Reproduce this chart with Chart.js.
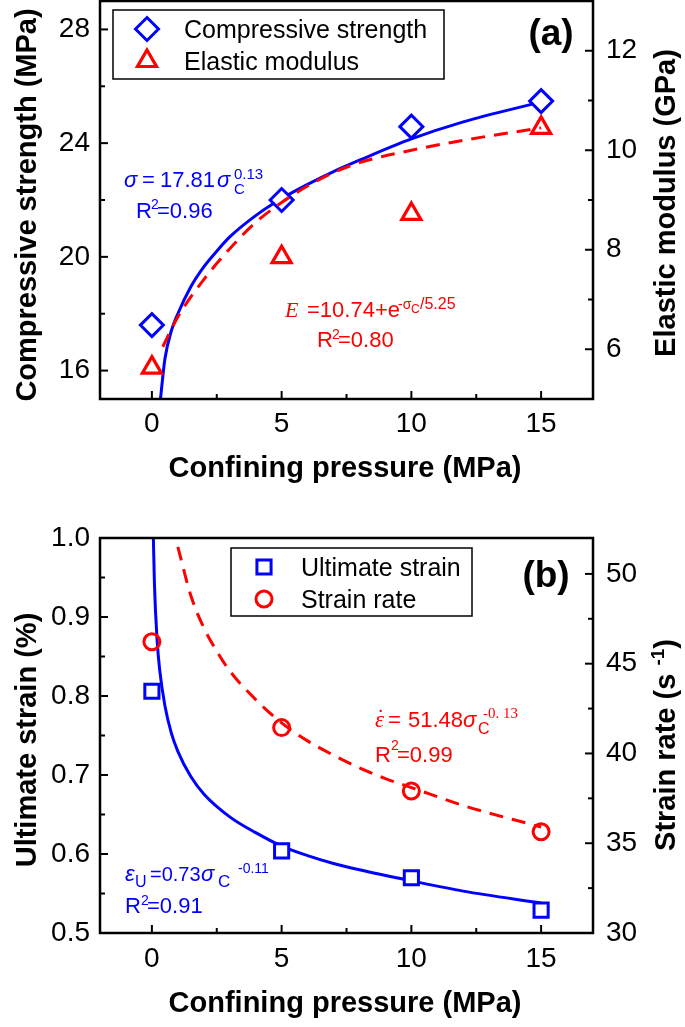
<!DOCTYPE html>
<html>
<head>
<meta charset="utf-8">
<script src="https://cdn.jsdelivr.net/npm/chart.js@4.4.0/dist/chart.umd.min.js"></script>
<style>
  body { margin: 0; background: #fff; }
  .wrap { position: absolute; left: 0; width: 685px; }
  #wrapA { top: 0; height: 500px; }
  #wrapB { top: 500px; height: 527px; }
</style>
</head>
<body>
<div class="wrap" id="wrapA"><canvas id="chartA" width="685" height="500"></canvas></div>
<div class="wrap" id="wrapB"><canvas id="chartB" width="685" height="527"></canvas></div>
<script>
// ===== data =====
const pressure = [0, 5, 10, 15];

// (a)
const compStrength = [17.6, 22.0, 24.58, 25.48];
const elasticModulus = [5.63, 7.85, 8.72, 10.45];
const fitStrengthX = [0.33, 0.5, 0.75, 1, 1.5, 2, 2.5, 3, 4, 5, 6, 7, 8, 10, 12, 15];
const fitStrengthY = [15.0, 16.4, 17.4, 18.0, 18.95, 19.65, 20.2, 20.7, 21.45, 22.05, 22.55, 23.0, 23.4, 24.15, 24.75, 25.45];
const fitModulusX = [0.42, 1, 2, 3, 4, 5, 6, 7, 8, 10, 12, 15];
const fitModulusY = [6.05, 6.65, 7.4, 8.02, 8.55, 8.95, 9.28, 9.55, 9.75, 10.0, 10.2, 10.45];

// (b)
const ultimateStrain = [0.806, 0.604, 0.570, 0.529];
const strainRate = [46.22, 41.44, 37.91, 35.64];
const fitStrainX = [0.057, 0.1, 0.2, 0.3, 0.5, 0.75, 1, 1.5, 2, 3, 4, 5, 6, 7, 8, 10, 12, 15];
const fitStrainY = [1.0, 0.94, 0.871, 0.833, 0.788, 0.753, 0.73, 0.698, 0.676, 0.647, 0.627, 0.610, 0.598, 0.588, 0.580, 0.566, 0.553, 0.538];
const fitRateX = [1, 1.5, 2, 2.5, 3, 4, 5, 6, 7, 8, 9, 10, 12, 15];
const fitRateY = [51.5, 48.8, 47.0, 45.7, 44.6, 43.0, 41.7, 40.7, 39.9, 39.2, 38.6, 38.1, 37.1, 35.9];

// ticks
const xTicks = [0, 5, 10, 15];
const xMinor = [2.5, 7.5, 12.5];
const strengthTicks = [16, 20, 24, 28];
const strengthMinor = [18, 22, 26];
const modulusTicks = [6, 8, 10, 12];
const modulusMinor = [7, 9, 11];
const strainTicks = [0.5, 0.6, 0.7, 0.8, 0.9, 1.0];
const strainMinor = [0.55, 0.65, 0.75, 0.85, 0.95];
const rateTicks = [30, 35, 40, 45, 50];
const rateMinor = [32.5, 37.5, 42.5, 47.5];

// ===== helpers =====
const SANS = "'Liberation Sans', Arial, sans-serif";
const SERIF = "'Liberation Serif', 'Times New Roman', serif";
const BLUE = '#0000ff';
const RED = '#ff0000';

Chart.defaults.font.family = SANS;
Chart.defaults.color = '#000';

const pts = (xs, ys) => xs.map((x, i) => ({x: x, y: ys[i]}));

function scaleOpts(pos, min, max, ticks, size, pad, fmt) {
    return {
        type: 'linear',
        position: pos,
        min: min,
        max: max,
        grid: {display: false, drawTicks: false},
        border: {display: false},
        afterBuildTicks: s => { s.ticks = ticks.map(v => ({value: v})); },
        afterFit: s => {
            if (pos === 'bottom') s.height = size; else s.width = size;
            s.paddingTop = 0; s.paddingBottom = 0; s.paddingLeft = 0; s.paddingRight = 0;
        },
        ticks: {
            font: {size: 28},
            color: '#000',
            padding: pad,
            maxRotation: 0,
            autoSkip: false,
            callback: fmt || (v => String(v))
        }
    };
}

function txt(ctx, s, x, y, font, color) {
    ctx.font = font;
    ctx.fillStyle = color;
    ctx.textAlign = 'left';
    ctx.textBaseline = 'alphabetic';
    ctx.fillText(s, x, y);
}

// frame and inward ticks
function frame(chart, minor) {
    const {ctx, chartArea: a, scales} = chart;
    ctx.save();
    ctx.strokeStyle = '#000';
    ctx.lineWidth = 2;
    const mark = (scale, v, len) => {
        const p = scale.getPixelForValue(v);
        ctx.beginPath();
        if (scale.axis === 'x') { ctx.moveTo(p, a.bottom); ctx.lineTo(p, a.bottom - len); }
        else if (scale.position === 'left') { ctx.moveTo(a.left, p); ctx.lineTo(a.left + len, p); }
        else { ctx.moveTo(a.right, p); ctx.lineTo(a.right - len, p); }
        ctx.stroke();
    };
    ['x', 'y', 'y1'].forEach(id => {
        const s = scales[id];
        s.ticks.forEach(t => { if (t.value > s.min && t.value < s.max) mark(s, t.value, 8); });
        minor[id].forEach(v => mark(s, v, 5));
    });
    ctx.lineWidth = 2.5;
    ctx.strokeRect(a.left, a.top, a.right - a.left, a.bottom - a.top);
    ctx.restore();
}

// rotated (bottom-to-top) title
function vTitle(ctx, x, y, parts) {
    ctx.save();
    ctx.translate(x, y);
    ctx.rotate(-Math.PI / 2);
    ctx.textAlign = 'left';
    ctx.textBaseline = 'alphabetic';
    ctx.fillStyle = '#000';
    let w = 0;
    parts.forEach(p => { ctx.font = p.f; w += ctx.measureText(p.t).width; });
    let cx = -w / 2;
    parts.forEach(p => {
        ctx.font = p.f;
        ctx.fillText(p.t, cx, p.dy || 0);
        cx += ctx.measureText(p.t).width;
    });
    ctx.restore();
}

function hTitle(ctx, s, x, y) {
    ctx.save();
    ctx.font = 'bold 29px ' + SANS;
    ctx.fillStyle = '#000';
    ctx.textAlign = 'center';
    ctx.textBaseline = 'alphabetic';
    ctx.fillText(s, x, y);
    ctx.restore();
}

// legend box drawn from the marker datasets
function legendBox(chart, box, rowsY, markX, textX) {
    const ctx = chart.ctx;
    ctx.save();
    ctx.lineWidth = 1.5;
    ctx.strokeStyle = '#000';
    ctx.strokeRect(box[0], box[1], box[2], box[3]);
    chart.data.datasets.filter(d => d.label).forEach((d, i) => {
        const y = rowsY[i];
        ctx.fillStyle = d.backgroundColor;
        ctx.strokeStyle = d.borderColor;
        ctx.lineWidth = d.borderWidth;
        Chart.helpers.drawPoint(ctx, {pointStyle: d.pointStyle, radius: d.pointRadius, borderWidth: d.borderWidth, rotation: 0}, markX, y);
        txt(ctx, d.label, textX, y + 9, '25px ' + SANS, '#000');
    });
    ctx.restore();
}

function panelLabel(ctx, s, x, y) {
    ctx.save();
    ctx.font = 'bold 37px ' + SANS;
    ctx.fillStyle = '#000';
    ctx.textAlign = 'center';
    ctx.textBaseline = 'alphabetic';
    ctx.fillText(s, x, y);
    ctx.restore();
}

// ===== chart (a) =====
const decorA = {
    id: 'decorA',
    afterDatasetsDraw(chart) {
        const ctx = chart.ctx;
        frame(chart, {x: xMinor, y: strengthMinor, y1: modulusMinor});
        vTitle(ctx, 36, 205, [{t: 'Compressive strength (MPa)', f: 'bold 29px ' + SANS}]);
        vTitle(ctx, 675, 203, [{t: 'Elastic modulus (GPa)', f: 'bold 29px ' + SANS}]);
        hTitle(ctx, 'Confining pressure (MPa)', 345, 477);
        legendBox(chart, [113, 10, 331, 69], [29, 61], 147, 184);
        panelLabel(ctx, '(a)', 551, 45);

        ctx.save();
        // blue fit text
        txt(ctx, 'σ', 124, 187, 'italic 22px ' + SANS, BLUE);
        txt(ctx, '=', 142, 187, '22px ' + SANS, BLUE);
        txt(ctx, '17.81', 160, 187, '22px ' + SANS, BLUE);
        txt(ctx, 'σ', 217, 187, 'italic 22px ' + SANS, BLUE);
        txt(ctx, 'C', 234, 194, '15px ' + SANS, BLUE);
        txt(ctx, '0.13', 234, 179, '15px ' + SANS, BLUE);
        txt(ctx, 'R', 136, 218, '22px ' + SANS, BLUE);
        txt(ctx, '2', 151, 209, '14px ' + SANS, BLUE);
        txt(ctx, '=0.96', 157, 218, '22px ' + SANS, BLUE);
        // red fit text
        txt(ctx, 'E', 285, 317, 'italic 22px ' + SERIF, RED);
        txt(ctx, '=10.74+e', 307, 317, '22px ' + SANS, RED);
        txt(ctx, '-σ', 398, 309, '14px ' + SANS, RED);
        txt(ctx, 'C', 411, 313, '12px ' + SANS, RED);
        txt(ctx, '/5.25', 420, 309, '16px ' + SANS, RED);
        txt(ctx, 'R', 317, 347, '22px ' + SANS, RED);
        txt(ctx, '2', 332, 339, '14px ' + SANS, RED);
        txt(ctx, '=0.80', 338, 347, '22px ' + SANS, RED);
        ctx.restore();
    }
};

new Chart(document.getElementById('chartA'), {
    type: 'scatter',
    data: {
        datasets: [
            {
                label: 'Compressive strength',
                data: pts(pressure, compStrength),
                yAxisID: 'y',
                pointStyle: 'rectRot',
                pointRadius: 11.5,
                borderWidth: 3,
                borderColor: BLUE,
                backgroundColor: '#ffffff',
                order: 2
            },
            {
                label: 'Elastic modulus',
                data: pts(pressure, elasticModulus),
                yAxisID: 'y1',
                pointStyle: 'triangle',
                pointRadius: 11,
                borderWidth: 3.2,
                borderColor: RED,
                backgroundColor: 'rgba(0,0,0,0)',
                order: 3
            },
            {
                data: pts(fitStrengthX, fitStrengthY),
                yAxisID: 'y',
                showLine: true,
                pointRadius: 0,
                borderColor: BLUE,
                borderWidth: 3,
                cubicInterpolationMode: 'monotone',
                order: 4
            },
            {
                data: pts(fitModulusX, fitModulusY),
                yAxisID: 'y1',
                showLine: true,
                pointRadius: 0,
                borderColor: RED,
                borderWidth: 3,
                borderDash: [14, 9],
                cubicInterpolationMode: 'monotone',
                order: 1
            }
        ]
    },
    options: {
        responsive: false,
        animation: false,
        devicePixelRatio: 1,
        layout: {autoPadding: false, padding: {top: 1, left: 0, right: 0, bottom: 0}},
        plugins: {legend: {display: false}, tooltip: {enabled: false}},
        scales: {
            x: scaleOpts('bottom', -2, 17, xTicks, 101, 8),
            y: scaleOpts('left', 15, 29, strengthTicks, 100, 10),
            y1: scaleOpts('right', 5, 13, modulusTicks, 92, 13)
        }
    },
    plugins: [decorA]
});

// ===== chart (b) =====
const decorB = {
    id: 'decorB',
    afterDatasetsDraw(chart) {
        const ctx = chart.ctx;
        frame(chart, {x: xMinor, y: strainMinor, y1: rateMinor});
        vTitle(ctx, 36, 240, [{t: 'Ultimate strain (%)', f: 'bold 29px ' + SANS}]);
        vTitle(ctx, 675, 245, [
            {t: 'Strain rate (s ', f: 'bold 29px ' + SANS},
            {t: '-1', f: 'bold 19px ' + SANS, dy: -11},
            {t: ')', f: 'bold 29px ' + SANS}
        ]);
        hTitle(ctx, 'Confining pressure (MPa)', 345, 512);
        legendBox(chart, [231, 48, 241, 68], [67, 99], 264, 301);
        panelLabel(ctx, '(b)', 546, 87);

        ctx.save();
        // red fit text
        txt(ctx, 'ε', 375, 227, 'italic 23px ' + SERIF, RED);
        txt(ctx, '˙', 377, 224, '22px ' + SERIF, RED);
        txt(ctx, '=', 388, 227, '22px ' + SANS, RED);
        txt(ctx, '51.48', 408, 227, '22px ' + SANS, RED);
        txt(ctx, 'σ', 463, 227, 'italic 22px ' + SANS, RED);
        txt(ctx, 'C', 478, 234, '16px ' + SANS, RED);
        txt(ctx, '-0. 13', 483, 218, '15px ' + SERIF, RED);
        txt(ctx, 'R', 375, 262, '22px ' + SANS, RED);
        txt(ctx, '2', 391, 250, '14px ' + SANS, RED);
        txt(ctx, '=0.99', 397, 262, '22px ' + SANS, RED);
        // blue fit text
        txt(ctx, 'ε', 125, 381, 'italic 22px ' + SANS, BLUE);
        txt(ctx, 'U', 135, 387, '16px ' + SANS, BLUE);
        txt(ctx, '=0.73', 150, 381, '20px ' + SANS, BLUE);
        txt(ctx, 'σ', 201, 381, 'italic 22px ' + SANS, BLUE);
        txt(ctx, 'C', 218, 387, '17px ' + SANS, BLUE);
        txt(ctx, '-0.11', 238, 373, '14px ' + SANS, BLUE);
        txt(ctx, 'R', 125, 413, '22px ' + SANS, BLUE);
        txt(ctx, '2', 141, 405, '14px ' + SANS, BLUE);
        txt(ctx, '=0.91', 147, 413, '22px ' + SANS, BLUE);
        ctx.restore();
    }
};

new Chart(document.getElementById('chartB'), {
    type: 'scatter',
    data: {
        datasets: [
            {
                label: 'Ultimate strain',
                data: pts(pressure, ultimateStrain),
                yAxisID: 'y',
                pointStyle: 'rect',
                pointRadius: 10,
                borderWidth: 3,
                borderColor: BLUE,
                backgroundColor: '#ffffff',
                order: 2
            },
            {
                label: 'Strain rate',
                data: pts(pressure, strainRate),
                yAxisID: 'y1',
                pointStyle: 'circle',
                pointRadius: 8,
                borderWidth: 3,
                borderColor: RED,
                backgroundColor: 'rgba(0,0,0,0)',
                order: 3
            },
            {
                data: pts(fitStrainX, fitStrainY),
                yAxisID: 'y',
                showLine: true,
                pointRadius: 0,
                borderColor: BLUE,
                borderWidth: 3,
                cubicInterpolationMode: 'monotone',
                order: 4
            },
            {
                data: pts(fitRateX, fitRateY),
                yAxisID: 'y1',
                showLine: true,
                pointRadius: 0,
                borderColor: RED,
                borderWidth: 3,
                borderDash: [14, 9],
                cubicInterpolationMode: 'monotone',
                order: 1
            }
        ]
    },
    options: {
        responsive: false,
        animation: false,
        devicePixelRatio: 1,
        layout: {autoPadding: false, padding: {top: 38, left: 0, right: 0, bottom: 0}},
        plugins: {legend: {display: false}, tooltip: {enabled: false}},
        scales: {
            x: scaleOpts('bottom', -2, 17, xTicks, 94, 9),
            y: scaleOpts('left', 0.5, 1.0, strainTicks, 100, 10, v => v.toFixed(1)),
            y1: scaleOpts('right', 30, 52, rateTicks, 92, 13)
        }
    },
    plugins: [decorB]
});
</script>
</body>
</html>
